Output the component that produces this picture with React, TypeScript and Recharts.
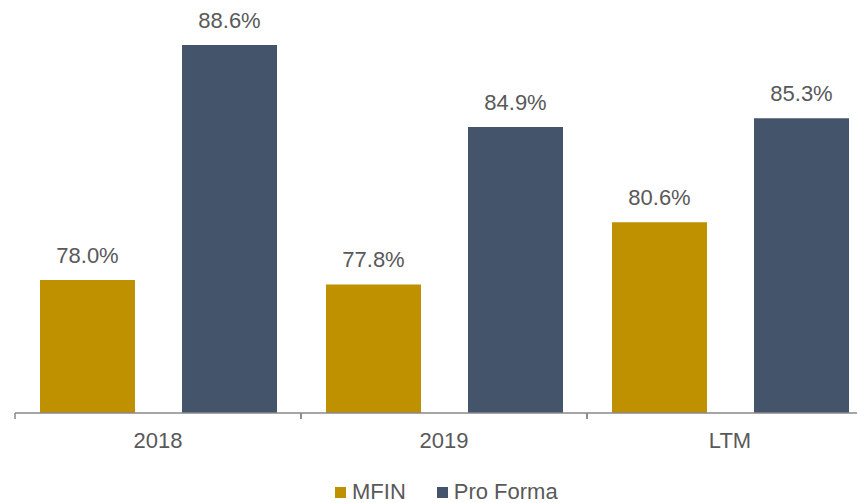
import React from 'react';
import { Bar, BarChart, LabelList, Legend, XAxis, YAxis } from 'recharts';

const periods = ['2018', '2019', 'LTM'];
const mfin = [78.0, 77.8, 80.6];
const proForma = [88.6, 84.9, 85.3];

const chartData = periods.map((name, i) => ({
  name,
  MFIN: mfin[i],
  'Pro Forma': proForma[i],
}));

const FONT = '"Liberation Sans", Arial, sans-serif';
const TEXT = '#595959';
const GOLD = '#BF9000';
const SLATE = '#44546A';
const AXIS = '#898989';
const TICK_GAP = 19;

const pct = (v: any) => `${Number(v).toFixed(1)}%`;

// category label plus a boundary tick on the left edge of its band
function CategoryTick(props: any) {
  const { x, y, payload } = props;
  const half = payload && payload.offset ? payload.offset : 143;
  const base = y - TICK_GAP;
  return (
    <g>
      <line x1={x - half} x2={x - half} y1={base} y2={base + 6} stroke={AXIS} strokeWidth={1.5} />
      <line x1={x + half} x2={x + half} y1={base} y2={base + 6} stroke={AXIS} strokeWidth={1.5} />
      <text
        x={x}
        y={y}
        dy={16}
        textAnchor="middle"
        fill={TEXT}
        fontSize={22}
        fontFamily={FONT}
      >
        {payload.value}
      </text>
    </g>
  );
}

function LegendBox() {
  const items = [
    { label: 'MFIN', color: GOLD },
    { label: 'Pro Forma', color: SLATE },
  ];
  return (
    <div
      style={{
        height: 40,
        paddingTop: 18,
        boxSizing: 'border-box',
        display: 'flex',
        alignItems: 'center',
        fontFamily: FONT,
        fontSize: 22,
        color: TEXT,
      }}
    >
      {items.map((it, i) => (
        <div
          key={it.label}
          style={{ display: 'flex', alignItems: 'center', marginRight: i === 0 ? 31 : 0 }}
        >
          <span
            style={{ width: 11, height: 11, background: it.color, display: 'inline-block', marginRight: 6 }}
          />
          <span style={{ lineHeight: '22px' }}>{it.label}</span>
        </div>
      ))}
    </div>
  );
}

export default function App() {
  return (
    <div
      style={{
        position: 'absolute',
        left: 0,
        top: 0,
        width: 857,
        height: 503,
        overflow: 'hidden',
        background: '#fff',
      }}
    >
      <BarChart
        width={880}
        height={503}
        data={chartData}
        margin={{ top: 14, right: 7, left: 15, bottom: 0 }}
        barSize={95}
        barGap={47}
      >
        <XAxis
          dataKey="name"
          axisLine={{ stroke: AXIS, strokeWidth: 1.5 }}
          tickLine={false}
          tickSize={0}
          tickMargin={TICK_GAP}
          height={50}
          tick={<CategoryTick />}
        />
        <YAxis hide domain={[72, 90]} />
        <Legend
          verticalAlign="bottom"
          content={() => <LegendBox />}
          wrapperStyle={{ left: 335, width: 300, height: 40 }}
        />
        <Bar dataKey="MFIN" fill={GOLD} isAnimationActive={false}>
          <LabelList
            dataKey="MFIN"
            position="top"
            offset={17}
            formatter={pct}
            style={{ fill: TEXT, fontSize: 22, fontFamily: FONT }}
          />
        </Bar>
        <Bar dataKey="Pro Forma" fill={SLATE} isAnimationActive={false}>
          <LabelList
            dataKey="Pro Forma"
            position="top"
            offset={17}
            formatter={pct}
            style={{ fill: TEXT, fontSize: 22, fontFamily: FONT }}
          />
        </Bar>
      </BarChart>
    </div>
  );
}
